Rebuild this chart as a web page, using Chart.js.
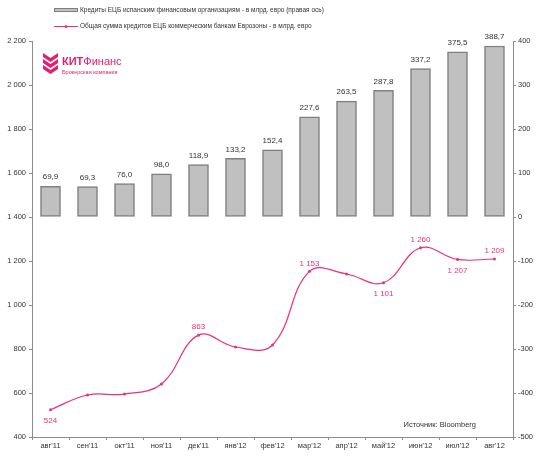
<!DOCTYPE html>
<html>
<head>
<meta charset="utf-8">
<script src="https://cdn.jsdelivr.net/npm/chart.js@4.4.0/dist/chart.umd.min.js"></script>
<style>
html, body { margin: 0; padding: 0; background: #fff; }
</style>
</head>
<body>
<canvas id="chart" width="550" height="456"></canvas>
<script>
const months = ["авг'11", "сен'11", "окт'11", "ноя'11", "дек'11", "янв'12", "фев'12",
                "мар'12", "апр'12", "май'12", "июн'12", "июл'12", "авг'12"];
// кредиты ЕЦБ испанским банкам, млрд евро (правая ось)
const spainLoans = [69.9, 69.3, 76.0, 98.0, 118.9, 133.2, 152.4, 227.6, 263.5, 287.8, 337.2, 375.5, 388.7];
// общая сумма кредитов ЕЦБ банкам еврозоны, млрд евро
const euroLoans = [524, 591, 595, 641, 863, 809, 818, 1153, 1141, 1101, 1260, 1207, 1209];

const leftTicks = { min: 400, max: 2200, step: 200 };
const rightTicks = { min: -500, max: 400, step: 100 };

// where to put the line labels (null = no label)
const lineLabelPos = ['below', null, null, null, 'above', null, null, 'above', null, 'below', 'above', 'below', 'above'];

const PINK = '#e9307f';
const AXIS = '#8c8c8c';
const TXT = '#333';
const FONT = '"Liberation Sans", Arial, sans-serif';

const fmtInt = v => String(v).replace(/\B(?=(\d{3})+(?!\d))/g, ' ');
const fmtDec = v => v.toFixed(1).replace('.', ',');

const extras = {
    id: 'extras',
    afterDatasetsDraw(chart) {
        const ctx = chart.ctx;
        ctx.save();
        ctx.font = '8px ' + FONT;
        ctx.textAlign = 'center';

        // bar labels
        const barMeta = chart.getDatasetMeta(0);
        ctx.fillStyle = TXT;
        ctx.textBaseline = 'bottom';
        barMeta.data.forEach((el, i) => {
            ctx.fillText(fmtDec(spainLoans[i]), el.x, el.y - 5);
        });

        // line labels
        const lineMeta = chart.getDatasetMeta(1);
        ctx.fillStyle = PINK;
        ctx.textBaseline = 'middle';
        lineMeta.data.forEach((el, i) => {
            const pos = lineLabelPos[i];
            if (!pos) return;
            const dy = pos === 'above' ? -8 : 11;
            ctx.fillText(fmtInt(euroLoans[i]), el.x, el.y + dy);
        });
        ctx.restore();
    },
    afterDraw(chart) {
        const ctx = chart.ctx;
        const ds = chart.data.datasets;
        ctx.save();

        // legend
        ctx.font = '6.5px ' + FONT;
        ctx.textBaseline = 'middle';
        ctx.textAlign = 'left';
        ctx.fillStyle = '#c0c0c0';
        ctx.strokeStyle = '#7f7f7f';
        ctx.lineWidth = 1;
        ctx.fillRect(54.5, 8.5, 23, 3);
        ctx.strokeRect(54.5, 8.5, 23, 3);
        ctx.fillStyle = TXT;
        ctx.fillText(ds[0].label, 80, 10.5);

        ctx.strokeStyle = PINK;
        ctx.lineWidth = 1;
        ctx.beginPath();
        ctx.moveTo(54, 26.5);
        ctx.lineTo(78, 26.5);
        ctx.stroke();
        ctx.fillStyle = PINK;
        ctx.beginPath();
        ctx.arc(66, 26.5, 1.5, 0, Math.PI * 2);
        ctx.fill();
        ctx.fillStyle = TXT;
        ctx.fillText(ds[1].label, 80, 26.5);

        // logo
        ctx.fillStyle = '#e4206e';
        [53, 59, 65].forEach(y0 => {
            ctx.beginPath();
            ctx.moveTo(43, y0);
            ctx.lineTo(50.5, y0 + 5);
            ctx.lineTo(58, y0);
            ctx.lineTo(58, y0 + 4);
            ctx.lineTo(50.5, y0 + 9);
            ctx.lineTo(43, y0 + 4);
            ctx.closePath();
            ctx.fill();
        });
        ctx.font = 'bold 11px ' + FONT;
        ctx.fillText('КИТ', 62, 62);
        const w = ctx.measureText('КИТ').width;
        ctx.font = '11px ' + FONT;
        ctx.fillText('Финанс', 62 + w, 62);
        ctx.font = '5.5px ' + FONT;
        ctx.fillText('Брокерская компания', 62, 72);

        // source
        ctx.fillStyle = TXT;
        ctx.font = '7.5px ' + FONT;
        ctx.textAlign = 'right';
        ctx.fillText('Источник: Bloomberg', 476, 425);
        ctx.restore();
    }
};

const tickFont = { family: FONT, size: 7.5 };

new Chart(document.getElementById('chart'), {
    data: {
        labels: months,
        datasets: [
            {
                type: 'bar',
                label: 'Кредиты ЕЦБ испанским финансовым организациям - в млрд. евро (правая ось)',
                data: spainLoans,
                yAxisID: 'y1',
                backgroundColor: '#c0c0c0',
                borderColor: '#7f7f7f',
                borderWidth: 1.5,
                borderSkipped: false,
                barThickness: 20,
                order: 2
            },
            {
                type: 'line',
                label: 'Общая сумма кредитов ЕЦБ коммерческим банкам Еврозоны - в млрд. евро',
                data: euroLoans,
                yAxisID: 'y',
                borderColor: PINK,
                backgroundColor: PINK,
                borderWidth: 1.2,
                pointRadius: 1.5,
                pointBorderWidth: 0,
                tension: 0.4,
                order: 1
            }
        ]
    },
    options: {
        responsive: false,
        animation: false,
        layout: { padding: { top: 41, left: 0, right: 0, bottom: 0 } },
        plugins: {
            legend: { display: false },
            tooltip: { enabled: false }
        },
        scales: {
            x: {
                offset: true,
                grid: { offset: true, drawOnChartArea: false, tickLength: 3, color: AXIS },
                border: { color: AXIS },
                ticks: { font: tickFont, color: TXT, padding: 1, maxRotation: 0, autoSkip: false },
                afterFit(s) { s.height = 19; }
            },
            y: {
                position: 'left',
                min: leftTicks.min,
                max: leftTicks.max,
                grid: { drawOnChartArea: false, tickLength: 3, color: AXIS },
                border: { color: AXIS },
                ticks: { stepSize: leftTicks.step, font: tickFont, color: TXT, padding: 3, callback: v => fmtInt(v) },
                afterFit(s) { s.width = 32; }
            },
            y1: {
                position: 'right',
                min: rightTicks.min,
                max: rightTicks.max,
                grid: { drawOnChartArea: false, tickLength: 3, color: AXIS },
                border: { color: AXIS },
                ticks: { stepSize: rightTicks.step, font: tickFont, color: TXT, padding: 2, callback: v => fmtInt(v) },
                afterFit(s) { s.width = 37; }
            }
        }
    },
    plugins: [extras]
});
</script>
</body>
</html>
